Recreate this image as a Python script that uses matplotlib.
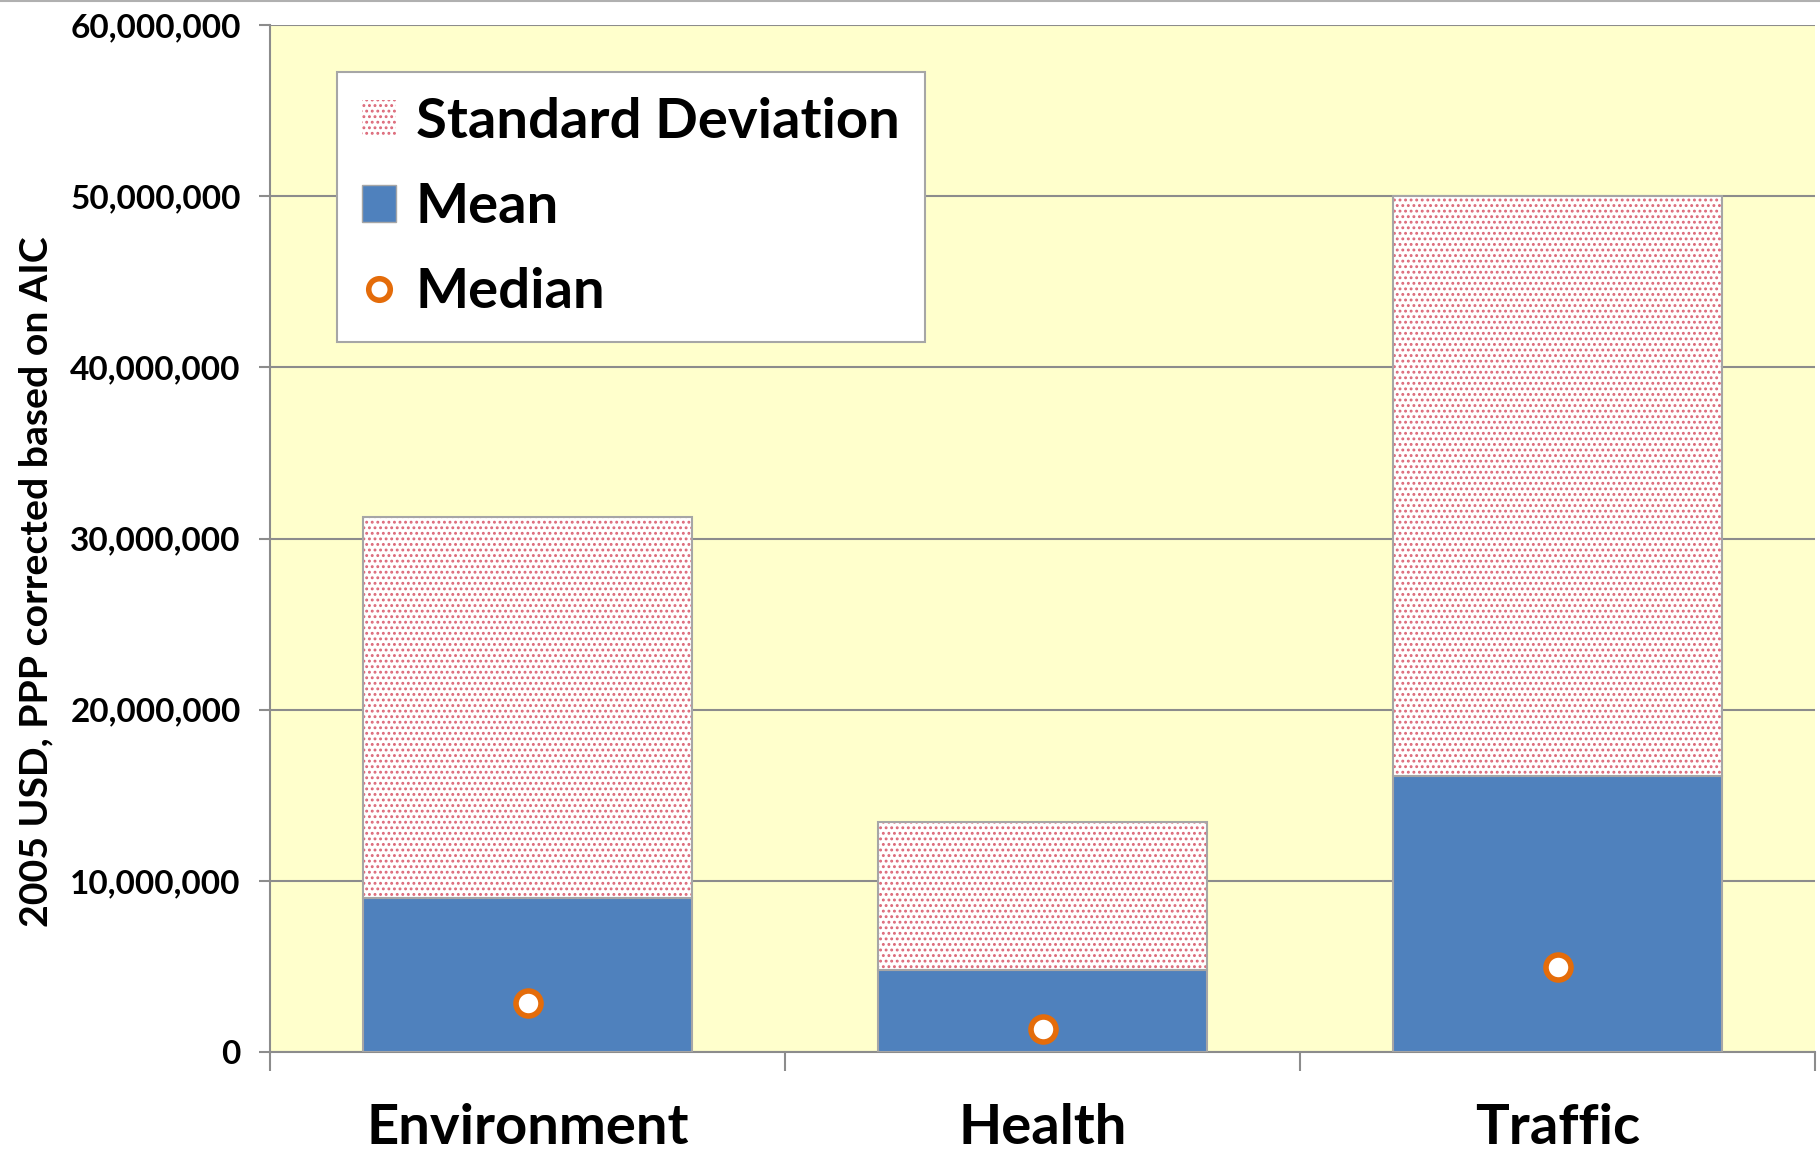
import matplotlib
matplotlib.use("Agg")
import matplotlib.pyplot as plt
from matplotlib.patches import Patch
from matplotlib.lines import Line2D
from matplotlib.ticker import FuncFormatter, FixedLocator

plt.rcParams['font.family'] = ['Lato', 'DejaVu Sans']
plt.rcParams['font.weight'] = 'bold'
plt.rcParams['hatch.linewidth'] = 1.3

categories = ["Environment", "Health", "Traffic"]
mean_vals = [8.98e6, 4.8e6, 16.1e6]
sd_vals = [22.3e6, 8.65e6, 33.9e6]
median_vals = [2.86e6, 1.35e6, 4.95e6]
y_ticks = [0, 10e6, 20e6, 30e6, 40e6, 50e6, 60e6]

mean_color = "#4f81bd"
sd_dot_color = "#dc6878"
median_color = "#e46c0a"
edge_gray = "#a6a6a6"
grid_gray = "#8c8c8c"
plot_bg = "#ffffcc"

fig = plt.figure(figsize=(18.2, 11.53), dpi=100)
ax = fig.add_axes([270 / 1820, 1 - 1052 / 1153, 1545 / 1820, 1027 / 1153])
ax.set_facecolor(plot_bg)

x = list(range(len(categories)))
width = 0.64

# mean segment
ax.bar(x, mean_vals, width=width, color=mean_color, edgecolor=edge_gray,
       linewidth=1.5, zorder=3)
# standard deviation segment: dotted fill, then grey outline
ax.bar(x, sd_vals, bottom=mean_vals, width=width, color="white",
       edgecolor=sd_dot_color, hatch="...", linewidth=0, zorder=3)
ax.bar(x, sd_vals, bottom=mean_vals, width=width, color="none",
       edgecolor=edge_gray, linewidth=1.5, zorder=4)
# medians
ax.plot(x, median_vals, linestyle="none", marker="o", markersize=18,
        markerfacecolor="white", markeredgecolor=median_color,
        markeredgewidth=4, zorder=5)

ax.set_xlim(-0.5, 2.5)
ax.set_ylim(0, 60e6)

ax.yaxis.set_major_locator(FixedLocator(y_ticks))
ax.yaxis.set_major_formatter(FuncFormatter(lambda v, p: f"{v:,.0f}"))
ax.grid(axis="y", color=grid_gray, linewidth=1.5, zorder=1)
ax.set_axisbelow(True)

ax.tick_params(axis="y", direction="out", length=8, width=1.5, color=grid_gray,
               pad=13, labelsize=24)
for lbl in ax.get_yticklabels():
    lbl.set_fontweight("bold")

# category boundaries carry the tick marks; labels sit on minor ticks
ax.xaxis.set_major_locator(FixedLocator([-0.5, 0.5, 1.5, 2.5]))
ax.xaxis.set_major_formatter(FuncFormatter(lambda v, p: ""))
ax.xaxis.set_minor_locator(FixedLocator(x))
ax.set_xticklabels(categories, minor=True)
ax.tick_params(axis="x", which="major", direction="out", length=14,
               width=1.5, color=grid_gray)
ax.tick_params(axis="x", which="minor", length=0, pad=37, labelsize=40.5)
for lbl in ax.get_xticklabels(minor=True):
    lbl.set_fontweight("bold")

for side in ("top", "right"):
    ax.spines[side].set_visible(False)
for side in ("left", "bottom"):
    ax.spines[side].set_color(grid_gray)
    ax.spines[side].set_linewidth(1.5)

fig.text(36 / 1820, 1 - 582 / 1153, "2005 USD, PPP corrected based on AIC",
         rotation=90, ha="center", va="center", fontsize=28.3,
         fontweight="bold")

handles = [
    Patch(facecolor="white", edgecolor=sd_dot_color, hatch="...",
          linewidth=0),
    Patch(facecolor=mean_color, edgecolor=edge_gray, linewidth=1.0),
    Line2D([], [], linestyle="none", marker="o", markersize=15.5,
           markerfacecolor="white", markeredgecolor=median_color,
           markeredgewidth=4),
]
leg = ax.legend(handles, ["Standard Deviation", "Mean", "Median"],
                loc="upper left", bbox_to_anchor=(67 / 1545, 980 / 1027),
                prop={"weight": "bold", "size": 40.5},
                frameon=True, fancybox=False, edgecolor=edge_gray,
                framealpha=1, borderpad=0.45, labelspacing=0.62,
                handlelength=0.6, handleheight=0.62, handletextpad=0.35,
                borderaxespad=0)
leg.get_frame().set_linewidth(1.5)
leg.set_zorder(6)

fig.add_artist(Line2D([0, 1], [0.9995, 0.9995], color="#b0b0b0",
                      linewidth=1.5, transform=fig.transFigure))

fig.savefig("out.png", dpi=100, facecolor="white")
